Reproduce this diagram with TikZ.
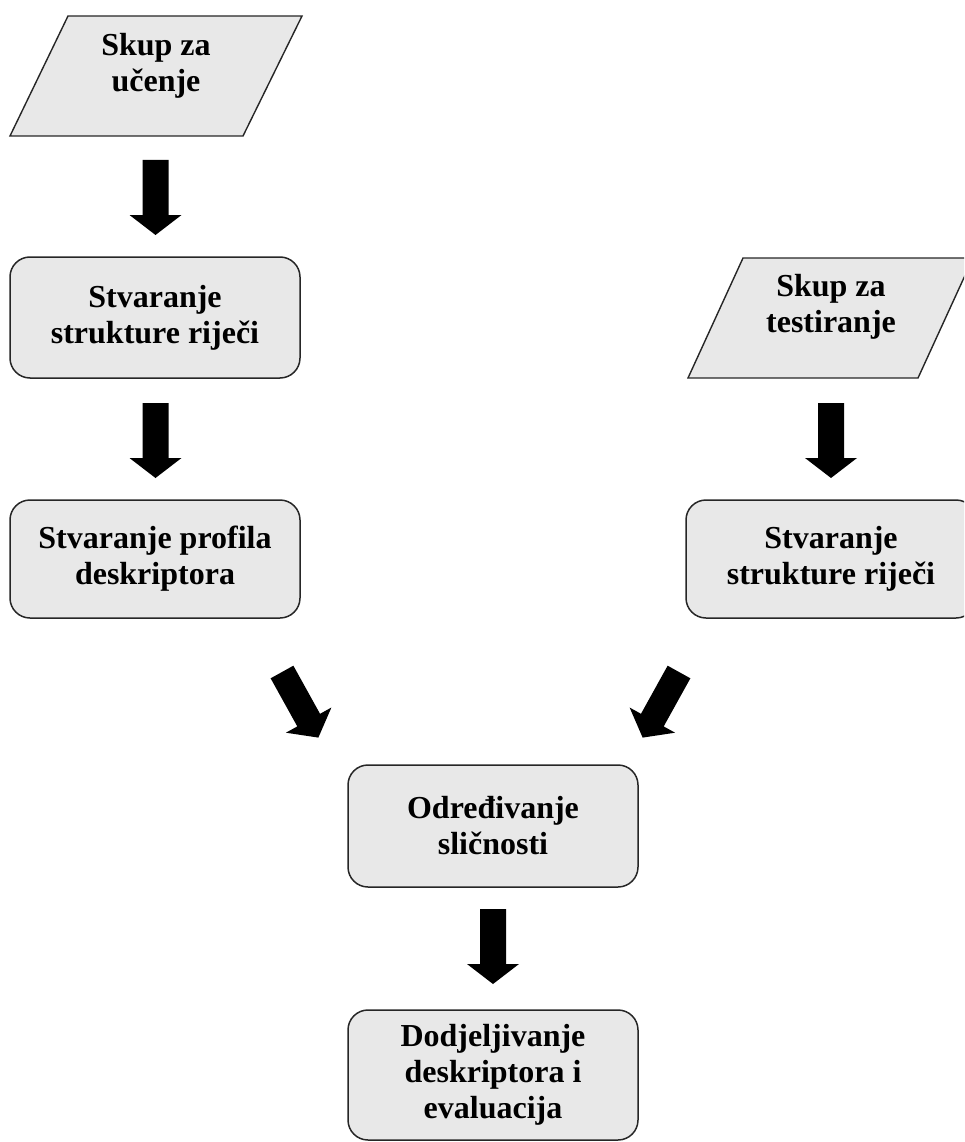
\documentclass[tikz,border=0pt]{standalone}
\usepackage{fontspec}
\setmainfont{Liberation Serif}
\begin{document}
\begin{tikzpicture}[x=1pt,y=-1pt,
  txt/.style={font=\fontsize{32}{36}\selectfont\bfseries, align=center, inner sep=0pt},
  proc/.style={txt, draw=black!85, line width=1.5pt, fill=black!9,
               rounded corners=20pt, minimum width=290pt},
  io/.style={draw=black!85, line width=1.4pt, fill=black!9},
  blockarrow/.pic={\fill[black] (0,-13) -- (55,-13) -- (55,-26) -- (75,0)
                   -- (55,26) -- (55,13) -- (0,13) -- cycle;}]
\useasboundingbox (0,0) rectangle (964,1142);
\begin{scope}
\clip (0,0) rectangle (964,1142);

% input sets
\draw[io] (68,16) -- (302,16) -- (243,136) -- (10,136) -- cycle;
\node[txt] (learn) at (156,66) {Skup za\\učenje};
\draw[io] (743,258) -- (973,258) -- (918,378) -- (688,378) -- cycle;
\node[txt] (test) at (831,307) {Skup za\\testiranje};

% processing steps
\node[proc, minimum height=121pt] (wordsL) at (155,317.5) {Stvaranje\\strukture riječi};
\node[proc, minimum height=118pt] (profile) at (155,559) {Stvaranje profila\\deskriptora};
\node[proc, minimum height=118pt] (wordsR) at (831,559) {Stvaranje\\strukture riječi};
\node[proc, minimum height=122pt] (sim) at (493,826) {Određivanje\\sličnosti};
\node[proc, minimum height=130pt] (assign) at (493,1075) {Dodjeljivanje\\deskriptora i\\evaluacija};

% block arrows
\pic[rotate=-90] at (155.5,160) {blockarrow};
\pic[rotate=-90] at (155.5,403) {blockarrow};
\pic[rotate=-90] at (831,403) {blockarrow};
\pic[rotate=-61] at (282,672) {blockarrow};
\pic[rotate=-119] at (679,672) {blockarrow};
\pic[rotate=-90] at (493,909) {blockarrow};
\end{scope}
\end{tikzpicture}
\end{document}
